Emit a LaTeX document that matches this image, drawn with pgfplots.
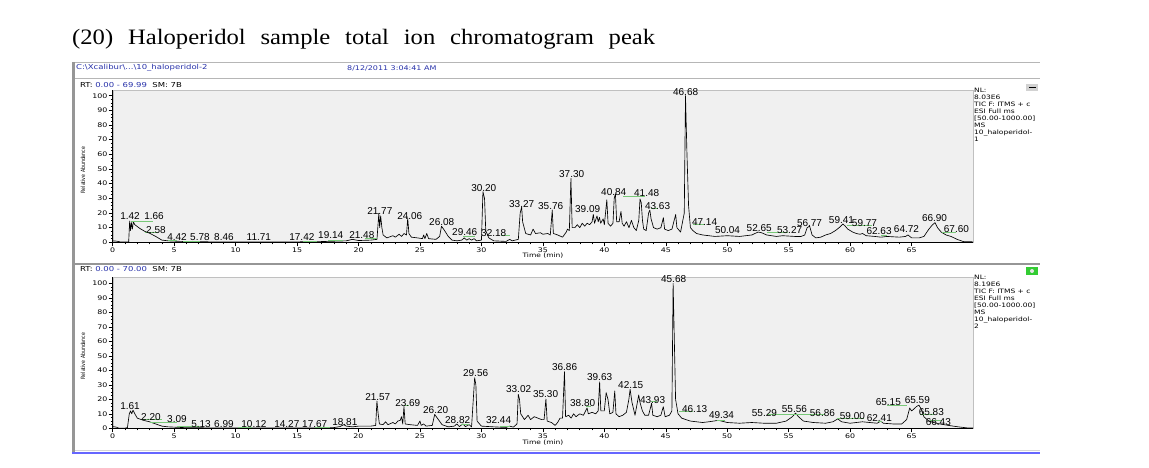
\documentclass[border=0pt]{standalone}
\usepackage{pgfplots}
\pgfplotsset{compat=1.18}
\usepackage{fontspec}
\setmainfont{Liberation Sans}
\newfontfamily\xc[FakeStretch=1.25]{DejaVu Sans}
\newfontfamily\xn[FakeStretch=0.8]{DejaVu Sans}
\newfontfamily\ttl[FakeStretch=1.12]{Liberation Serif}
\definecolor{plotbg}{RGB}{240,240,240}
\definecolor{grn}{RGB}{120,200,120}
\definecolor{hblue}{RGB}{40,50,170}
\definecolor{frame}{RGB}{150,150,150}

\pgfplotstableread{
x y
0 1.0
0.3 0.8
0.6 0.3
1.0 0.2
1.3 0.3
1.38 14.5
1.45 8
1.52 13.5
1.6 9
1.68 14
1.8 12
2.2 9.5
2.6 7.5
3.0 6.2
3.5 4
4.0 1.5
4.5 1.0
5.0 0.8
6 0.5
8 0.3
10 0.3
13 0.2
15 0.3
17 0.5
19 1.0
19.5 2.0
20 1.2
21 1.5
21.5 2
21.65 19.8
21.72 10
21.8 18
21.9 10
22.0 5
22.3 3
22.8 4.5
23.0 3.5
23.3 5.5
23.5 4
23.7 6
23.9 5
24.0 16.4
24.1 6
24.3 3.5
24.8 3
25.2 2.5
25.3 5
25.4 2.5
25.55 6
25.7 2.5
26.3 2
26.6 4
26.75 11
27.0 8
27.3 4
27.6 1.5
28 1
28.4 1.5
28.6 3
28.8 1.5
29.0 2.5
29.2 1.5
29.4 2.5
29.6 1
30.0 1.5
30.12 34.5
30.25 30
30.35 8
30.6 3
31 1
31.5 0.8
32 0.6
32.3 2.0
32.5 1
33.0 2
33.15 20
33.27 24
33.35 14
33.6 6
34.0 5
34.2 9
34.4 6
34.8 6.5
35.0 5.5
35.4 6
35.6 5
35.76 22
35.85 6
36.2 5
36.6 3.5
36.9 7
37.0 9
37.15 8
37.28 43.6
37.38 10
37.6 10
37.8 12
38.0 10
38.2 13
38.4 11
38.6 13
38.8 12
39.0 14
39.1 19
39.2 13
39.4 18
39.5 14
39.6 17
39.7 13
39.9 16
40.0 12
40.2 29
40.3 13
40.5 11
40.7 13
40.8 30
40.9 33
41.0 14
41.2 14
41.35 21
41.45 13
41.6 11
41.8 14
42.0 10
42.2 15
42.4 10
42.6 8
42.8 15
42.9 29.5
43.0 27
43.1 15
43.2 9
43.4 8
43.6 20
43.7 22
43.8 16
44.0 10
44.3 9
44.6 10
44.8 16.8
44.9 9
45.2 8
45.5 9
45.8 19
45.9 10
46.2 7
46.5 20
46.6 100
46.72 60
46.85 25
47.0 10
47.2 8
47.5 6
48 5
49 4
50 4.5
51 4
52 5
52.5 7
52.8 6.5
53.2 5
54 4
54.5 4.5
55.5 4
56 4
56.3 5
56.5 10
56.7 11
56.9 5
57.2 3
57.6 3.5
58.0 5
58.4 6
58.8 8
59.1 10
59.4 12.5
59.6 11
59.8 9
60.2 7
60.5 6
60.8 5.5
61.0 6
61.3 4.5
62 4
62.5 3.5
63 4
64 3.5
64.5 4
64.7 5
65 3
65.6 3
66.0 4
66.4 9
66.7 12
66.9 13.4
67.1 10
67.4 7
67.8 5
68.2 4
68.7 2
69.2 0.5
69.99 0.3
}\ticone

\pgfplotstableread{
x y
0 1.2
0.3 0.8
0.5 0.1
1.0 0.1
1.2 0.5
1.35 10
1.45 12
1.55 10
1.65 12.5
1.8 10
2.0 7
2.5 5.5
3.0 4.5
3.5 3
4.0 1.5
4.5 1
5 0.8
6 0.4
8 0.3
10 0.2
14 0.2
17 0.3
18 0.5
18.5 1.2
18.8 2.5
19.0 1.5
19.5 1.0
20 1.5
21 1.5
21.4 2
21.5 18.8
21.6 10
21.7 3
22.0 2.5
22.2 4.5
22.4 2.5
22.8 4
23.0 3
23.2 5
23.4 5.5
23.5 8
23.6 3
23.7 15
23.8 3
24.2 2.5
24.8 2
25.0 5
25.1 2
25.3 3
25.5 1.5
26.0 2
26.2 9.6
26.5 6
26.8 2.5
27.3 1
27.8 1.5
28.0 3
28.2 1.2
28.5 3
28.7 1.2
29.0 2.5
29.2 1
29.45 34.9
29.55 30
29.65 5
30.0 1.5
31 1
32 0.6
32.3 1.5
32.6 0.8
32.9 3
33.0 23.4
33.1 20
33.2 10
33.5 6
33.8 9
34.0 6
34.3 8
34.6 7
34.9 6
35.1 6
35.25 20.2
35.35 5
35.7 4
36.0 2
36.2 4
36.4 7
36.6 7
36.76 39
36.85 8
37.1 9
37.3 7
37.5 10
37.7 8
38.0 10
38.3 9
38.6 14
38.7 10
39.0 11
39.3 10
39.5 12
39.62 32
39.72 12
40.0 12
40.15 24.6
40.3 20
40.45 10
40.7 11
40.85 25.7
40.95 10
41.2 8
41.5 9
41.8 11
42.0 20
42.1 26.9
42.25 18
42.5 9
42.8 23
42.9 18
43.1 12
43.3 9
43.6 9
43.85 17.2
43.95 9
44.3 8
44.6 9
44.8 14.9
44.95 8
45.3 9
45.5 12
45.6 100
45.7 60
45.8 20
46.0 10
46.3 7
47 5
48 4
48.5 4.5
49.3 5.5
50 4
51 3.5
52 4
53 3.5
54 3.5
54.8 5
55.3 8
55.56 10.5
55.8 8
56.2 5
57 4
58 3.5
58.6 4.5
59.0 6.5
59.3 4.5
60 3.5
60.5 4
61 4.5
61.6 4
62.2 3.5
62.5 5
62.7 3.5
63.5 3
64.2 3
64.6 6
64.85 14
65.0 12
65.15 13
65.4 15
65.6 16
65.8 13
66.0 8
66.4 5
66.8 4
67.3 3
68 2
68.8 1
69.5 0.3
70 0.2
}\tictwo

\pgfplotsset{
  tic/.style={
    scale only axis, width=860.3pt,
    xmin=0, ymin=0,
    axis x line*=bottom, axis y line*=left,
    axis line style={-, black, line width=0.6pt},
    axis background/.style={fill=plotbg, draw=frame!60},
    tick align=outside, major tick length=4pt, minor tick length=2pt,
    xtick={0,5,...,65}, minor x tick num=4,
    ytick={0,10,...,100}, minor y tick num=3,
    tick style={black, line width=0.5pt},
    ticklabel style={font=\xc\fontsize{6.3}{7}\selectfont, inner sep=1pt},
    /pgf/number format/assume math mode=true,
    clip=false,
    unbounded coords=jump,
    every node/.append style={font=\xc\fontsize{6.1}{6.5}\selectfont},
  },
  tr/.style={black, line width=0.65pt, line join=round},
  gl/.style={grn, line width=0.6pt},
}

\begin{document}
\begin{tikzpicture}
\fill[white] (0pt,0pt) rectangle (1149pt,-468pt);
% title
\node[anchor=base west, inner sep=0pt] at (72pt,-45pt) {\makebox[583pt][s]{\ttl\fontsize{22}{24}\selectfont (20) Haloperidol sample total ion chromatogram peak}};
% frame
\draw[frame!70, line width=0.8pt] (73pt,-62pt) -- (1040pt,-62pt);
\fill[frame] (72pt,-62pt) rectangle (75pt,-452pt);
\draw[frame!70, line width=0.6pt] (75pt,-78pt) -- (1040pt,-78pt);
\draw[frame, line width=1.5pt] (75pt,-264pt) -- (1040pt,-264pt);
\draw[frame!40, line width=1pt] (75pt,-450pt) -- (1040pt,-450pt);
\draw[blue!60, line width=1.5pt] (72pt,-453pt) -- (1040pt,-453pt);
% header
\node[anchor=west, inner sep=0pt, text=hblue, font=\xc\fontsize{6.8}{7}\selectfont] at (76pt,-68pt) {C:\textbackslash Xcalibur\textbackslash ...\textbackslash 10\_haloperidol-2};
\node[anchor=west, inner sep=0pt, text=hblue, font=\xc\fontsize{6.4}{7}\selectfont] at (347pt,-68pt) {8/12/2011 3:04:41 AM};
\node[anchor=west, inner sep=0pt, font=\xc\fontsize{6.8}{7}\selectfont] at (80pt,-85pt) {RT: \textcolor{hblue}{0.00 - 69.99} \ SM: 7B};
\node[anchor=west, inner sep=0pt, font=\xc\fontsize{6.8}{7}\selectfont] at (80pt,-269pt) {RT: \textcolor{hblue}{0.00 - 70.00} \ SM: 7B};
% icons
\fill[gray!35] (1026pt,-84pt) rectangle (1038pt,-91pt);
\draw[black, line width=0.6pt] (1029pt,-87.5pt) -- (1036pt,-87.5pt);
\fill[green!75!black!80] (1026pt,-267pt) rectangle (1038pt,-275pt);
\fill[gray!20] (1032pt,-271pt) circle (2pt);
% right info
\node[anchor=north west, inner sep=0pt, align=left, font=\xc\fontsize{6}{7}\selectfont] at (974pt,-88pt) {NL:\\8.03E6\\TIC F: ITMS + c\\ESI Full ms\\{[}50.00-1000.00{]}\\ MS\\10\_haloperidol-\\1};
\node[anchor=north west, inner sep=0pt, align=left, font=\xc\fontsize{6}{7}\selectfont] at (974pt,-275pt) {NL:\\8.19E6\\TIC F: ITMS + c\\ESI Full ms\\{[}50.00-1000.00{]}\\ MS\\10\_haloperidol-\\2};
% axis labels
\node[rotate=90, inner sep=0pt, font=\xn\fontsize{5.8}{6}\selectfont] at (83pt,-170pt) {Relative Abundance};
\node[rotate=90, inner sep=0pt, font=\xn\fontsize{5.8}{6}\selectfont] at (83pt,-356pt) {Relative Abundance};
\node[inner sep=0pt, font=\xc\fontsize{6}{6}\selectfont] at (543pt,-256pt) {Time (min)};
\node[inner sep=0pt, font=\xc\fontsize{6}{6}\selectfont] at (543pt,-443pt) {Time (min)};

% ---------- top panel ----------
\begin{axis}[tic, at={(112.7pt,-242.3pt)}, anchor=south west,
  height=152.3pt, xmax=69.99, ymax=103.9]
\addplot[tr] table {\ticone};
\addplot[gl] coordinates {(1.5,14.5)(3.3,14.5)(3.3,nan)(2.6,7)(3.7,7)(3.7,nan)(4.5,1.3)(5.2,1.3)(5.2,nan)(5.7,0.8)(7.1,0.8)(7.1,nan)(15.5,1)(16.6,1)(16.6,nan)(17.5,1.5)(18.7,1.5)(18.7,nan)(20.5,2.8)(21.5,2.8)(21.5,nan)(28.5,4.3)(29.5,4.3)(29.5,nan)(31.6,4.8)(32.3,4.8)(32.3,nan)(41.5,31.4)(43.3,31.4)(43.3,nan)(43.8,23.2)(44.4,23.2)(44.4,nan)(47.2,12.3)(48.2,12.3)(48.2,nan)(53.2,6.8)(54.9,6.8)(54.9,nan)(59.7,11.8)(61.8,11.8)(61.8,nan)(62.5,4.5)(63,4.5)(63,nan)(67.5,7)(68.6,7)};
\foreach \lx/\ly/\lt in {1.41/17.9/1.42, 3.36/17.9/1.66, 3.52/8.4/2.58, 5.23/3.6/4.42, 7.10/3.6/5.78, 9.05/3.6/8.46, 11.89/3.6/11.71, 15.39/3.6/17.42, 17.74/5.0/19.14, 20.27/5.0/21.48, 21.73/21.4/21.77, 24.17/17.9/24.06, 26.77/13.8/26.08, 28.64/7.0/29.46, 30.19/37.0/30.20, 31.0/6.3/32.18, 33.27/26.1/33.27, 35.63/24.8/35.76, 37.34/46.6/37.30, 38.64/22.7/39.09, 40.76/34.3/40.84, 43.44/33.6/41.48, 44.33/24.8/43.63, 46.61/102.5/46.68, 48.15/13.8/47.14, 50.02/8.4/50.04, 52.6/9.8/52.65, 55.07/8.4/53.27, 56.69/13.2/56.77, 59.29/15.2/59.41, 61.16/13.2/59.77, 62.35/7.6/62.63, 64.58/9.1/64.72, 66.86/16.6/66.90, 68.64/9.1/67.60}{
  \edef\temp{\noexpand\node[inner sep=0pt] at (axis cs:\lx,\ly) {\lt};}\temp
}
\end{axis}

% ---------- bottom panel ----------
\begin{axis}[tic, at={(112.7pt,-428.3pt)}, anchor=south west,
  height=151.6pt, xmax=70, ymax=104.6]
\addplot[tr] table {\tictwo};
\addplot[gl] coordinates {(2.36,6.2)(3.98,6.2)(3.98,nan)(3.0,3.9)(5.2,3.9)(5.2,nan)(5.2,1.1)(7.1,1.1)(7.1,nan)(10.2,1)(11.3,1)(11.3,nan)(16.5,1)(17.7,1)(17.7,nan)(23.7,16)(24.1,16)(24.1,nan)(28.3,3)(29,3)(29,nan)(31.5,1.5)(32.3,1.5)(32.3,nan)(38.5,15)(38.9,15)(38.9,nan)(43.8,18.5)(44.3,18.5)(44.3,nan)(46.1,11.4)(47.2,11.4)(47.2,nan)(49.2,5.5)(49.8,5.5)(49.8,nan)(53.2,9.6)(57.95,9.6)(57.95,nan)(58.9,6.9)(61.1,6.9)(61.1,nan)(62.3,5)(62.6,5)(62.6,nan)(63.0,15.6)(64.6,15.6)(64.6,nan)(65.7,9.9)(66.8,9.9)(66.8,nan)(66.5,5.2)(67.5,5.2)};
\foreach \lx/\ly/\lt in {1.41/15.4/1.61, 3.11/7.8/2.20, 5.23/6.4/3.09, 7.19/3.0/5.13, 9.05/3.0/6.99, 11.49/3.0/10.12, 14.17/3.0/14.27, 16.44/3.0/17.67, 18.89/4.3/18.81, 21.57/21.6/21.57, 24.01/17.5/23.69, 26.28/12.6/26.20, 28.07/5.7/28.82, 29.53/38.1/29.56, 31.4/5.7/32.44, 33.03/27.1/33.02, 35.22/23.7/35.30, 36.77/42.3/36.86, 38.24/17.5/38.80, 39.62/35.4/39.63, 42.15/29.9/42.15, 43.93/19.5/43.93, 45.64/103/45.68, 47.35/13.3/46.13, 49.54/9.2/49.34, 53.03/10.6/55.29, 55.47/13.3/55.56, 57.75/10.6/56.86, 60.19/8.5/59.00, 62.38/7.1/62.41, 63.11/18.1/65.15, 65.47/19.5/65.59, 66.61/11.2/65.83, 67.18/4.6/66.43}{
  \edef\temp{\noexpand\node[inner sep=0pt] at (axis cs:\lx,\ly) {\lt};}\temp
}
\end{axis}
\end{tikzpicture}
\end{document}
